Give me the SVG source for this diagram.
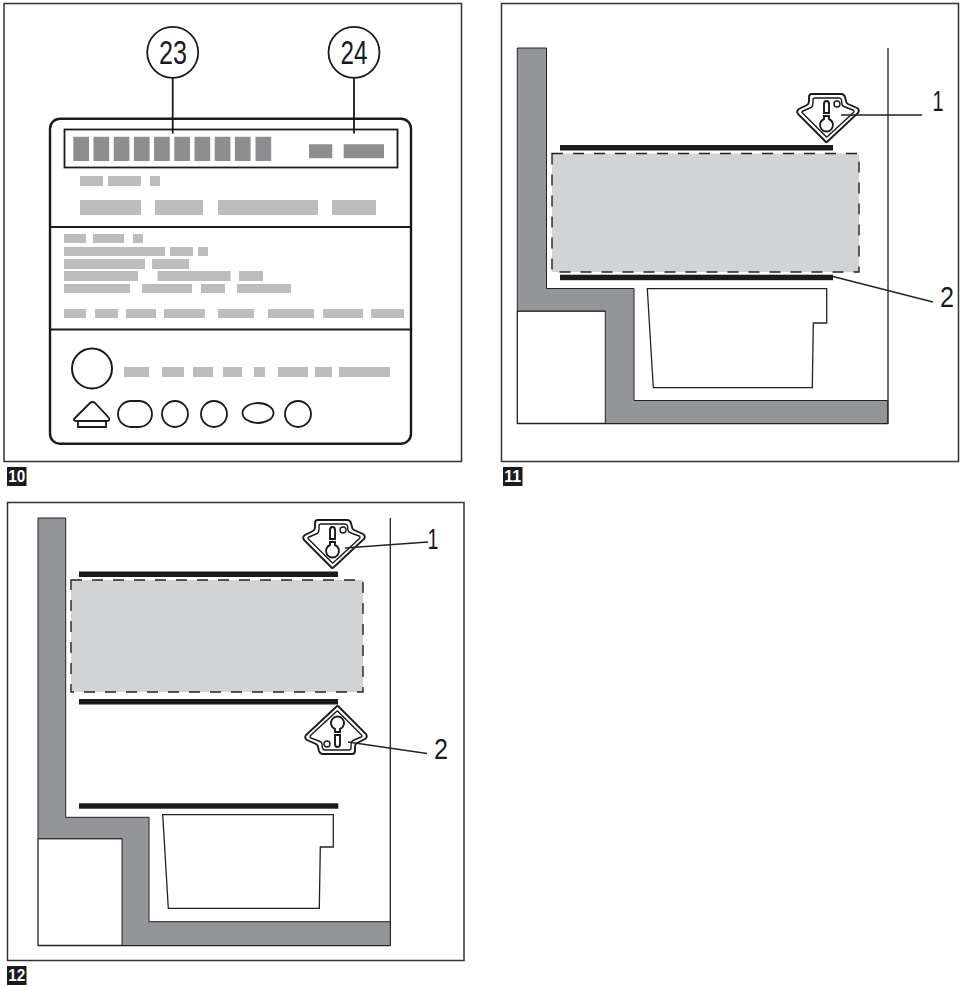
<svg xmlns="http://www.w3.org/2000/svg" width="960" height="987" viewBox="0 0 960 987">
<style>
.frame{fill:#fff;stroke:#333;stroke-width:1.5}
.ln{fill:none;stroke:#1a1a1a;stroke-width:1.8}
.thin{fill:none;stroke:#222;stroke-width:1.3}
.sy{fill:none;stroke:#1a1a1a;stroke-width:1.9}
.syi{fill:none;stroke:#1a1a1a;stroke-width:1.4}
.b{fill:#bcbcbc}
.d{fill:#8e8e90}
.w{fill:#939598;stroke:#222;stroke-width:1}
.bar{fill:#1a1a1a}
.cargo{fill:#d1d3d4;stroke:#222;stroke-width:1.4;stroke-dasharray:11 10}
.num{font-family:"Liberation Sans",Arial,sans-serif;fill:#1a1a1a;text-anchor:middle}
.tag{fill:#1a1a1a}
.tagt{font-family:"Liberation Sans",Arial,sans-serif;font-size:17px;font-weight:bold;fill:#fff;text-anchor:middle}
</style>
<defs>
<g id="sym">
<path class="sy" d="M-1 22 L-28 -5 Q-30 -8 -27 -10 L-19 -14 Q-17 -15 -17 -18 L-17 -22 Q-17 -25 -14 -25 L15 -25 Q18 -25 19 -22 L20 -18 Q20 -16 22 -15 L31 -11 Q34 -9 32 -6 L2 22 Q0 24 -1 22 Z"/>
<path class="syi" d="M0 17.500 L-23 -5.500 Q-25 -7 -23 -8 L-16 -11 Q-13 -12 -13 -16 L-13 -19 Q-13 -21 -11 -21 L13 -21 Q15 -21 15.500 -19 L16 -15 Q16 -13 19 -12 L27 -9 Q29 -8 27 -6 L1.500 17.500 Q.5 18.500 0 17.500 Z"/>
<path class="sy" d="M-2 -15 Q-2 -18 .5 -18 Q3 -18 3 -15 L3 -6 L-2 -6 Z"/>
<path class="sy" d="M-2 -3 L3 -3 L3 0 A6.500 6.500 0 1 1 -2 0 Z"/>
<circle class="syi" cx="11" cy="-15" r="3"/>
</g>
</defs>

<g id="panel10">
<rect class="frame" x="4" y="3.500" width="457.500" height="458"/>
<rect x="50" y="118.700" width="361" height="325" rx="10" fill="#fff" stroke="#1a1a1a" stroke-width="2.400"/>
<path d="M50 227H411M50 329.500H411" stroke="#1a1a1a" stroke-width="2" fill="none"/>
<rect x="64.500" y="129.500" width="333" height="38" fill="#fff" stroke="#1a1a1a" stroke-width="1.800"/>
<path class="d" d="M73.300 136.700h15.700v24.300h-15.700zM93.500 136.700h15.700v24.300h-15.700zM113.700 136.700h15.700v24.300h-15.700zM133.900 136.700h15.700v24.300h-15.700zM154.100 136.700h15.700v24.300h-15.700zM174.300 136.700h15.700v24.300h-15.700zM194.500 136.700h15.700v24.300h-15.700zM214.700 136.700h15.700v24.300h-15.700zM234.900 136.700h15.700v24.300h-15.700zM255.500 136.700h15.700v24.300h-15.700zM309 144.300h23.300v14h-23.300zM343.700 144.300h40.300v14h-40.300z"/>
<path class="b" d="M80 176h23v10h-23zM108 176h33v10h-33zM150 176h10v10h-10zM80 200h61v15h-61zM155 200h48v15h-48zM218 200h100v15h-100zM332 200h44v15h-44z"/>
<path class="b" d="M64 234h22v9h-22zM93 234h31v9h-31zM133 234h10v9h-10zM64 247h101v9h-101zM170 247h23v9h-23zM198 247h10v9h-10zM64 259h81v10h-81zM152 259h37v10h-37zM64 271h74v10h-74zM157.500 271h73v10h-73zM239 271h24v10h-24zM64 284h66v9h-66zM142 284h50v9h-50zM201 284h24v9h-24zM237 284h54v9h-54z"/>
<path class="b" d="M64 309h22v9h-22zM95 309h23v9h-23zM126 309h30v9h-30zM164 309h41v9h-41zM218 309h36v9h-36zM268 309h46v9h-46zM323 309h40v9h-40zM371 309h33v9h-33z"/>
<path class="b" d="M124 367h25v10h-25zM162 367h22v10h-22zM193 367h20v10h-20zM223 367h19v10h-19zM254 367h11v10h-11zM278 367h30v10h-30zM315 367h17v10h-17zM339 367h51v10h-51z"/>
<circle class="ln" cx="92" cy="368.500" r="20" style="stroke-width:2"/>
<path class="ln" d="M74 419 L90 403 Q92.500 401 95 403 L109 418 Q110 421 107 421 L77 421 Q73 421 74 419 ZM78 421 V427 H106 V421"/>
<rect class="ln" x="118" y="401" width="34" height="26" rx="13"/>
<circle class="ln" cx="175" cy="414" r="13"/>
<circle class="ln" cx="214" cy="414" r="13"/>
<ellipse class="ln" cx="258" cy="413" rx="15.500" ry="10"/>
<circle class="ln" cx="298" cy="414" r="13"/>
<circle class="ln" cx="172.700" cy="52.300" r="25.500"/>
<circle class="ln" cx="354" cy="52.300" r="25.500"/>
<path class="ln" d="M172.700 78V133.500M354 78V133.500"/>
<text class="num" x="173" y="64" font-size="33" textLength="28" lengthAdjust="spacingAndGlyphs">23</text>
<text class="num" x="354" y="64" font-size="33" textLength="27" lengthAdjust="spacingAndGlyphs">24</text>
<rect class="tag" x="7" y="467" width="19.500" height="19"/>
<text class="tagt" x="16.700" y="482" textLength="17" lengthAdjust="spacingAndGlyphs">10</text>
</g>

<g id="panel11">
<rect class="frame" x="501.500" y="3.500" width="457" height="458"/>
<path class="thin" d="M888 48V424M517.300 311H605.300M517.300 311V423.500H888"/>
<path class="w" d="M517.300 48H546.500V288.500H634V400.500H887.700V423.500H605.300V311H517.300Z"/>
<path class="thin" d="M647.300 288.700H826.700V323H813.300L812.300 387.700H653.300Z"/>
<rect class="bar" x="560" y="145" width="273" height="5.500"/>
<rect class="bar" x="560" y="274.700" width="273" height="5.500"/>
<rect class="cargo" x="552" y="153.500" width="307" height="118.500"/>
<use href="#sym" x="826" y="119"/>
<path class="thin" d="M841 115H922M833 276.500L933 302"/>
<text class="num" x="938" y="111" font-size="30" textLength="11" lengthAdjust="spacingAndGlyphs">1</text>
<text class="num" x="947" y="307" font-size="29" textLength="14" lengthAdjust="spacingAndGlyphs">2</text>
<rect class="tag" x="503" y="467" width="19.500" height="19"/>
<text class="tagt" x="512.700" y="482" textLength="17" lengthAdjust="spacingAndGlyphs">11</text>
</g>

<g id="panel12">
<rect class="frame" x="7.500" y="502.500" width="456.500" height="458"/>
<path class="thin" d="M390.300 518V945.500M38 838.700H122M38 838.700V945.500H390.300"/>
<path class="w" d="M38 518H65.700V817.300H149V921.700H390.300V945.500H122V838.700H38Z"/>
<path class="thin" d="M162.700 814.700H333.300V847H320.300L319.300 908.300H168.300Z"/>
<rect class="bar" x="79" y="571.500" width="259" height="5.500"/>
<rect class="bar" x="79" y="699" width="259" height="5.500"/>
<rect class="bar" x="79" y="803.300" width="259.300" height="5.400"/>
<rect class="cargo" x="71" y="580" width="292" height="112"/>
<use href="#sym" x="332" y="545"/>
<use href="#sym" transform="translate(338 729) rotate(180)"/>
<path class="thin" d="M345 548L428 542M348 742L427 753.500"/>
<text class="num" x="433" y="548.500" font-size="29" textLength="11" lengthAdjust="spacingAndGlyphs">1</text>
<text class="num" x="441" y="759" font-size="29" textLength="14" lengthAdjust="spacingAndGlyphs">2</text>
<rect class="tag" x="7" y="966" width="19.500" height="19"/>
<text class="tagt" x="16.700" y="981" textLength="17" lengthAdjust="spacingAndGlyphs">12</text>
</g>
</svg>
